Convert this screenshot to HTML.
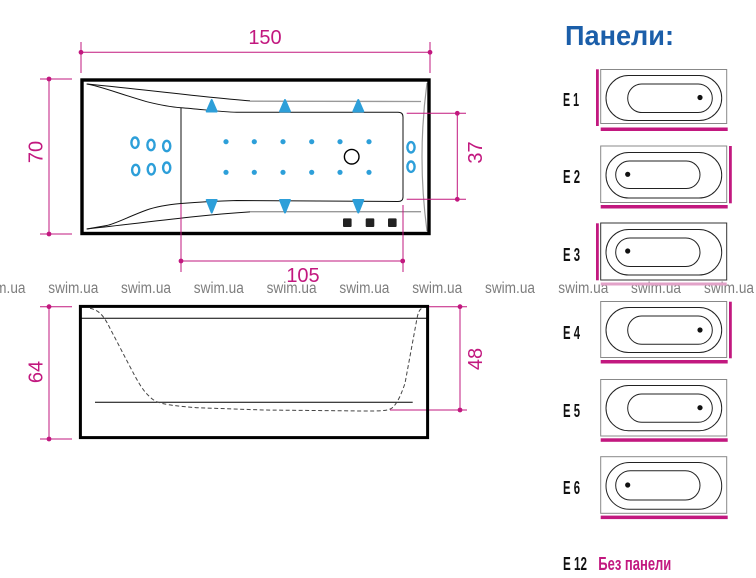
<!DOCTYPE html>
<html><head><meta charset="utf-8"><style>
html,body{margin:0;padding:0;background:#fff;}
svg{display:block;}
</style></head><body>
<svg width="756" height="578" viewBox="0 0 756 578" xmlns="http://www.w3.org/2000/svg">
<g font-family="'Liberation Sans', sans-serif">
<!-- watermark -->
<g fill="#7d7d7d" font-size="15.5">
<text x="-24.5" y="293" textLength="50" lengthAdjust="spacingAndGlyphs">swim.ua</text>
<text x="48.3" y="293" textLength="50" lengthAdjust="spacingAndGlyphs">swim.ua</text>
<text x="121" y="293" textLength="50" lengthAdjust="spacingAndGlyphs">swim.ua</text>
<text x="193.8" y="293" textLength="50" lengthAdjust="spacingAndGlyphs">swim.ua</text>
<text x="266.6" y="293" textLength="50" lengthAdjust="spacingAndGlyphs">swim.ua</text>
<text x="339.4" y="293" textLength="50" lengthAdjust="spacingAndGlyphs">swim.ua</text>
<text x="412.2" y="293" textLength="50" lengthAdjust="spacingAndGlyphs">swim.ua</text>
<text x="485" y="293" textLength="50" lengthAdjust="spacingAndGlyphs">swim.ua</text>
<text x="558.3" y="293" textLength="50" lengthAdjust="spacingAndGlyphs">swim.ua</text>
<text x="631" y="293" textLength="50" lengthAdjust="spacingAndGlyphs">swim.ua</text>
<text x="704" y="293" textLength="50" lengthAdjust="spacingAndGlyphs">swim.ua</text>
</g>

<!-- ===== TOP VIEW ===== -->
<g fill="none" stroke="#111" stroke-width="1">
<path d="M86.7,84 C150,90 200,97 250,100.9"/>
<path d="M250,101.2 L421,101.5" stroke="#999" stroke-width="1.3"/>
<path d="M86.7,84 C100,86 120,94 146.7,101.7 C160,105 170,107 181,107.7 C200,109 220,112 236.7,112.3 L398,112.3 Q403,112.3 403,117 L403,197 Q403,201.5 398,201.5 L236.7,200.5 C220,201 200,202 181,203.5 C165,205 155,207 146.7,210 C130,216 115,224 106.7,225.5 L86.7,229"/>
<path d="M86.7,229 C150,222 200,215 250,211.9"/>
<path d="M250,211.7 L421,211.7" stroke="#999" stroke-width="1.3"/>
<path d="M181,107.7 L181,204"/>
<path d="M427,83 Q417,157 427,231" stroke="#999" stroke-width="1.2"/>
</g>
<rect x="82" y="80" width="347" height="153.5" fill="none" stroke="#000" stroke-width="3.4"/>

<!-- blue triangles -->
<g fill="#2d9fd9" stroke="#2d9fd9" stroke-width="2" stroke-linejoin="round">
<polygon points="211.7,100 216.7,111.5 206.7,111.5"/>
<polygon points="285,100 290,111.5 280,111.5"/>
<polygon points="358.3,100 363.3,111.5 353.3,111.5"/>
<polygon points="211.7,212.5 216.7,200 206.7,200"/>
<polygon points="285,212.5 290,200 280,200"/>
<polygon points="358.3,212.5 363.3,200 353.3,200"/>
</g>
<!-- blue dots -->
<g fill="#2d9fd9">
<circle cx="226" cy="141.7" r="2.6"/><circle cx="254.3" cy="141.7" r="2.6"/><circle cx="283" cy="141.7" r="2.6"/><circle cx="311.7" cy="141.7" r="2.6"/><circle cx="340" cy="141.7" r="2.6"/><circle cx="369" cy="141.7" r="2.6"/>
<circle cx="226" cy="172.3" r="2.6"/><circle cx="254.3" cy="172.3" r="2.6"/><circle cx="283" cy="172.3" r="2.6"/><circle cx="311.7" cy="172.3" r="2.6"/><circle cx="340" cy="172.3" r="2.6"/><circle cx="369" cy="172.3" r="2.6"/>
</g>
<!-- blue rings -->
<g fill="none" stroke="#2d9fd9" stroke-width="2.4">
<ellipse cx="135" cy="142.7" rx="3.6" ry="5.2"/>
<ellipse cx="151" cy="145" rx="3.6" ry="5.2"/>
<ellipse cx="166.7" cy="146" rx="3.6" ry="5.2"/>
<ellipse cx="135.7" cy="170" rx="3.6" ry="5.2"/>
<ellipse cx="151.3" cy="169.3" rx="3.6" ry="5.2"/>
<ellipse cx="166.7" cy="167.7" rx="3.6" ry="5.2"/>
<ellipse cx="411" cy="147.3" rx="3.6" ry="5.2"/>
<ellipse cx="411" cy="166.7" rx="3.6" ry="5.2"/>
</g>
<circle cx="351.7" cy="156.7" r="7.3" fill="none" stroke="#000" stroke-width="1.4"/>
<g fill="#222">
<rect x="343" y="218.4" width="8.6" height="8.6" rx="1"/>
<rect x="365.7" y="218.4" width="8.6" height="8.6" rx="1"/>
<rect x="388" y="218.4" width="8.6" height="8.6" rx="1"/>
</g>

<!-- dimensions (magenta) -->
<g stroke="#c2187f" stroke-width="1" fill="none">
<path d="M81,52.3 L430,52.3 M81,42 L81,73 M430,42 L430,73"/>
<path d="M49,79 L49,234 M40,79 L72,79 M40,234 L72,234"/>
<path d="M457.3,113.3 L457.3,199.3 M406.7,113.3 L466,113.3 M406.7,199.3 L466,199.3"/>
<path d="M181,261 L402.7,261 M181,204 L181,272 M403,205 L403,272"/>
<path d="M49,306.7 L49,439 M40,306.7 L72,306.7 M40,439 L72,439"/>
<path d="M460,306.7 L460,410 M429,306.7 L467,306.7 M390,410 L467,410"/>
</g>
<g fill="#c2187f">
<circle cx="81" cy="52.3" r="2.4"/><circle cx="430" cy="52.3" r="2.4"/>
<circle cx="49" cy="79" r="2.4"/><circle cx="49" cy="234" r="2.4"/>
<circle cx="457.3" cy="113.3" r="2.4"/><circle cx="457.3" cy="199.3" r="2.4"/>
<circle cx="181" cy="261" r="2.4"/><circle cx="402.7" cy="261" r="2.4"/>
<circle cx="49" cy="306.7" r="2.4"/><circle cx="49" cy="439" r="2.4"/>
<circle cx="460" cy="306.7" r="2.4"/><circle cx="460" cy="410" r="2.4"/>
</g>
<g fill="#c2187f" font-size="20" text-anchor="middle">
<text x="265" y="44">150</text>
<text x="303" y="282">105</text>
<text transform="translate(42.5,152) rotate(-90)">70</text>
<text transform="translate(482,152.5) rotate(-90)">37</text>
<text transform="translate(42.5,372) rotate(-90)">64</text>
<text transform="translate(482,359) rotate(-90)">48</text>
</g>

<!-- ===== SIDE VIEW ===== -->
<rect x="80.4" y="306.4" width="347.2" height="131.2" fill="none" stroke="#000" stroke-width="3"/>
<path d="M81,318.3 L428,318.3" stroke="#000" stroke-width="1"/>
<path d="M95,402.3 L412.7,402.3" stroke="#000" stroke-width="1"/>
<path d="M90,308.3 C98,310 103,314 110,328.3 L130,366.7 C137,380 142,390 150,397 C156,403 163,405 196.7,407.7 L263.3,410 L363.3,411 C380,411 388,411 392,408 C398,403 402,392 405,383.3 L416.7,320 C418,313 419,310 421.7,308.3" fill="none" stroke="#444" stroke-width="1" stroke-dasharray="4,2.5"/>

<!-- ===== PANELS ===== -->
<text x="565" y="45" font-size="28" font-weight="bold" fill="#1b5ea9" textLength="109" lengthAdjust="spacingAndGlyphs">Панели:</text>

<g font-size="18" font-weight="bold" fill="#111">
<text x="563" y="106" textLength="16" lengthAdjust="spacingAndGlyphs">E 1</text>
<text x="563" y="183" textLength="17" lengthAdjust="spacingAndGlyphs">E 2</text>
<text x="563" y="261" textLength="17" lengthAdjust="spacingAndGlyphs">E 3</text>
<text x="563" y="339" textLength="17" lengthAdjust="spacingAndGlyphs">E 4</text>
<text x="563" y="417" textLength="17" lengthAdjust="spacingAndGlyphs">E 5</text>
<text x="563" y="494" textLength="17" lengthAdjust="spacingAndGlyphs">E 6</text>
<text x="563" y="570" textLength="24" lengthAdjust="spacingAndGlyphs">E 12</text>
</g>
<text x="598.3" y="570" font-size="18" font-weight="bold" fill="#c2187f" textLength="73" lengthAdjust="spacingAndGlyphs">Без панели</text>

<!-- E1 -->
<g fill="none" stroke-width="1">
<rect x="600.7" y="69.5" width="126" height="54" stroke="#888"/>
<rect x="606" y="75.5" width="115.7" height="45" rx="22.5" stroke="#222"/>
<rect x="627.7" y="84" width="84.6" height="28.5" rx="14.2" stroke="#222"/>
</g>
<circle cx="700" cy="97.5" r="2.6" fill="#111"/>
<!-- E2 -->
<g fill="none" stroke-width="1">
<rect x="600.7" y="146" width="126" height="56.5" stroke="#888"/>
<rect x="606" y="152.5" width="115.7" height="45.5" rx="22.7" stroke="#222"/>
<rect x="615.7" y="161" width="84.3" height="27.5" rx="13.7" stroke="#222"/>
</g>
<circle cx="627.7" cy="174.3" r="2.6" fill="#111"/>
<!-- E3 -->
<g fill="none" stroke-width="1">
<rect x="600.7" y="223" width="126" height="57" stroke="#333"/>
<rect x="606" y="229.5" width="115.7" height="45.5" rx="22.7" stroke="#222"/>
<rect x="615.7" y="238" width="84.3" height="28.5" rx="14.2" stroke="#222"/>
</g>
<circle cx="627.7" cy="251" r="2.6" fill="#111"/>
<!-- E4 -->
<g fill="none" stroke-width="1">
<rect x="600.7" y="301.5" width="126" height="56" stroke="#888"/>
<rect x="606" y="307.5" width="115.7" height="45" rx="22.5" stroke="#222"/>
<rect x="627.7" y="316" width="84.6" height="28.3" rx="14.1" stroke="#222"/>
</g>
<circle cx="700" cy="330" r="2.6" fill="#111"/>
<!-- E5 -->
<g fill="none" stroke-width="1">
<rect x="600.7" y="379.5" width="126" height="56.5" stroke="#888"/>
<rect x="606" y="385.5" width="115.7" height="45.2" rx="22.6" stroke="#222"/>
<rect x="627.7" y="394" width="84.6" height="28.3" rx="14.1" stroke="#222"/>
</g>
<circle cx="700" cy="407.7" r="2.6" fill="#111"/>
<!-- E6 -->
<g fill="none" stroke-width="1">
<rect x="600.7" y="456.7" width="126" height="56.6" stroke="#888"/>
<rect x="606" y="462.5" width="115.7" height="46.8" rx="23.4" stroke="#222"/>
<rect x="615.7" y="470.7" width="84.3" height="29.3" rx="14.6" stroke="#222"/>
</g>
<circle cx="627.7" cy="485" r="2.6" fill="#111"/>

<!-- magenta panel bars -->
<g fill="#c2187f">
<rect x="596" y="69.3" width="2.8" height="56.7"/>
<rect x="600.7" y="127.5" width="127" height="3.5"/>
<rect x="729" y="146" width="2.8" height="57.3"/>
<rect x="600.7" y="205" width="127" height="3.5"/>
<rect x="596" y="223.3" width="2.8" height="57"/>
<rect x="729" y="301.7" width="2.8" height="56.6"/>
<rect x="600.7" y="360" width="127" height="3.5"/>
<rect x="600.7" y="438.3" width="127" height="3.5"/>
<rect x="600.7" y="515.6" width="127" height="3.5"/>
</g>
<rect x="600.7" y="282.5" width="126" height="3" fill="#e2a2c8"/>
</g>
</svg>
</body></html>
